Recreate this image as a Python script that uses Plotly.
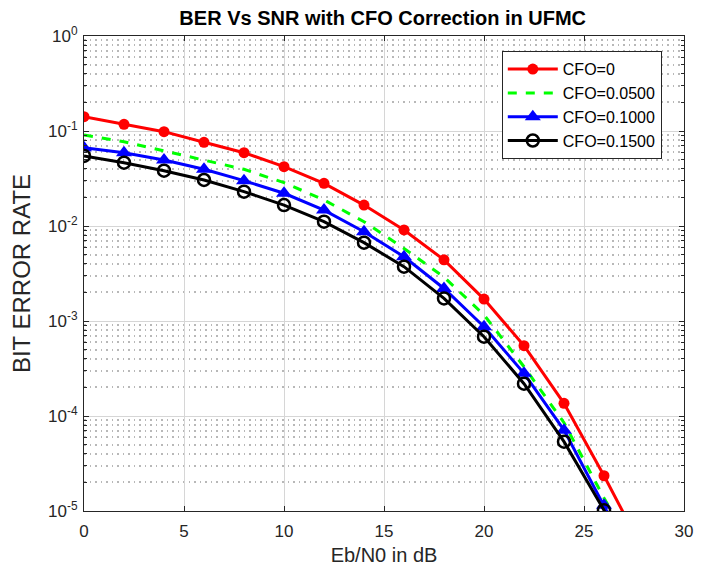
import plotly.graph_objects as go

snr_db = [0, 2, 4, 6, 8, 10, 12, 14, 16, 18, 20, 22, 24, 26, 28]
ber_cfo_0 = [0.1415, 0.1175, 0.0984, 0.076, 0.0591, 0.0421, 0.0281, 0.0166, 0.00908,
             0.0044, 0.0017, 0.00055, 1.36e-4, 2.35e-5, 3.7e-6]
ber_cfo_005 = [0.0908, 0.0772, 0.0617, 0.0495, 0.0395, 0.0286, 0.0188, 0.0111, 0.0058,
               0.0029, 0.00116, 3.3e-4, 8.5e-5, 1.37e-5, 2.5e-6]
ber_cfo_010 = [0.0667, 0.059, 0.0495, 0.0395, 0.030, 0.0221, 0.0147, 0.0087, 0.00475,
               0.0022, 8.7e-4, 2.81e-4, 7.1e-5, 1.15e-5, 1.8e-6]
ber_cfo_015 = [0.0546, 0.0464, 0.0382, 0.0305, 0.023, 0.0166, 0.0111, 0.00668, 0.00373,
               0.00173, 6.84e-4, 2.19e-4, 5.37e-5, 1.02e-5, 1.5e-6]
series_names = ["CFO=0", "CFO=0.0500", "CFO=0.1000", "CFO=0.1500"]

x_ticks = [0, 5, 10, 15, 20, 25, 30]
y_exponents = [-5, -4, -3, -2, -1, 0]
y_tick_vals = [10.0 ** e for e in y_exponents]
y_tick_text = ["10<sup>%d</sup>" % e for e in y_exponents]
y_minor_vals = [m * 10.0 ** e for e in y_exponents[:-1] for m in range(2, 10)]

FONT = "Liberation Sans, Arial, Helvetica, sans-serif"
AX = "#262626"

fig = go.Figure()
fig.add_trace(go.Scatter(x=snr_db, y=ber_cfo_0, name=series_names[0], mode="lines+markers",
                         line=dict(color="#ff0000", width=3),
                         marker=dict(symbol="circle", size=11, color="#ff0000")))
fig.add_trace(go.Scatter(x=snr_db, y=ber_cfo_005, name=series_names[1], mode="lines",
                         line=dict(color="#00ff00", width=3, dash="dash")))
fig.add_trace(go.Scatter(x=snr_db, y=ber_cfo_010, name=series_names[2], mode="lines+markers",
                         line=dict(color="#0000ff", width=3),
                         marker=dict(symbol="triangle-up", size=14, color="#0000ff")))
fig.add_trace(go.Scatter(x=snr_db, y=ber_cfo_015, name=series_names[3], mode="lines+markers",
                         line=dict(color="#000000", width=3),
                         marker=dict(symbol="circle-open", size=12, color="#000000",
                                     line=dict(width=2.5, color="#000000"))))

fig.update_layout(
    width=711, height=570,
    margin=dict(l=76, r=35, t=28, b=67),
    paper_bgcolor="white", plot_bgcolor="white",
    font=dict(family=FONT, size=17, color=AX),
    title=dict(text="<b>BER Vs SNR with CFO Correction in UFMC</b>", x=0.527, xanchor="center",
               y=0.9825, yanchor="middle", font=dict(size=20, color="#000000")),
    showlegend=True,
    legend=dict(x=0.963, xanchor="right", y=0.968, yanchor="top",
                bgcolor="white", bordercolor="#262626", borderwidth=1,
                font=dict(size=16, color="#000000"), tracegroupgap=0,
                itemwidth=50),
    xaxis=dict(range=[0, 30], tickvals=x_ticks, ticks="inside", ticklen=5,
               tickcolor=AX, showline=True, linecolor=AX, linewidth=1.2, mirror="ticks",
               showgrid=True, gridcolor="#d6d6d6", gridwidth=1, zeroline=False,
               automargin=False, ticklabelstandoff=4,
               title=dict(text="Eb/N0 in dB", font=dict(size=20, color=AX), standoff=8),
               tickfont=dict(size=17, color=AX)),
    yaxis=dict(type="log", range=[-5, 0], tickvals=y_tick_vals, ticktext=y_tick_text,
               ticks="inside", ticklen=5, tickcolor=AX,
               showline=True, linecolor=AX, linewidth=1.2, mirror="ticks",
               showgrid=True, gridcolor="#d6d6d6", gridwidth=1, zeroline=False,
               automargin=False, ticklabelstandoff=2,
               minor=dict(tickvals=y_minor_vals, ticks="inside", ticklen=3, tickcolor=AX,
                          showgrid=True, gridcolor="#b8b8b8", griddash="1.5px,4px", gridwidth=1.5),
               title=dict(text="BIT ERROR RATE", font=dict(size=24, color=AX), standoff=10),
               tickfont=dict(size=17, color=AX)),
)

fig.write_html("out.html")
